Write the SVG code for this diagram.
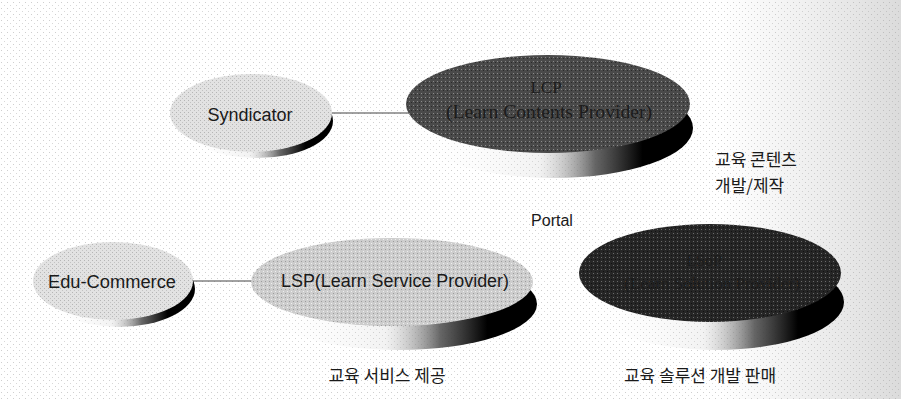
<svg xmlns="http://www.w3.org/2000/svg" width="901" height="399" viewBox="0 0 901 399">
<defs>
<style>
.t{font-family:"Liberation Sans","Noto Sans CJK KR",sans-serif;fill:#1a1a1a;text-anchor:middle}
.k{font-family:"Noto Sans CJK KR","Liberation Sans",sans-serif;fill:#1a1a1a;font-size:17px}
.dk{font-family:"Liberation Serif","Noto Sans CJK KR",serif;fill:#1c1c1c;text-anchor:middle}
.conn{stroke:#444;stroke-width:1.2;fill:none}
</style>
<pattern id="dots" width="6" height="6" patternUnits="userSpaceOnUse">
<rect width="6" height="6" fill="#ffffff"/>
<rect x="1" y="2" width="1" height="1" fill="#cfcfcf"/>
<rect x="4" y="5" width="1" height="1" fill="#d8d8d8"/>
</pattern>
<pattern id="lite" width="4" height="4" patternUnits="userSpaceOnUse">
<rect width="4" height="4" fill="#e2e2e2"/>
<rect x="0" y="0" width="1" height="1" fill="#b5b5b5"/>
<rect x="2" y="2" width="1" height="1" fill="#c2c2c2"/>
</pattern>
<pattern id="mid" width="4" height="4" patternUnits="userSpaceOnUse">
<rect width="4" height="4" fill="#cdcdcd"/>
<rect x="1" y="1" width="1" height="1" fill="#9c9c9c"/>
<rect x="3" y="3" width="1" height="1" fill="#eeeeee"/>
</pattern>
<pattern id="dark" width="4" height="4" patternUnits="userSpaceOnUse">
<rect width="4" height="4" fill="#4a4a4a"/>
<rect x="1" y="1" width="1" height="1" fill="#8a8a8a"/>
<rect x="3" y="2" width="1" height="1" fill="#2a2a2a"/>
</pattern>
<pattern id="darker" width="4" height="4" patternUnits="userSpaceOnUse">
<rect width="4" height="4" fill="#262626"/>
<rect x="1" y="1" width="1" height="1" fill="#6a6a6a"/>
<rect x="3" y="3" width="1" height="1" fill="#111"/>
</pattern>
<linearGradient id="sh" x1="0" y1="0" x2="1" y2="0">
<stop offset="0" stop-color="#ffffff" stop-opacity="0"/>
<stop offset="0.45" stop-color="#cccccc" stop-opacity="0.25"/>
<stop offset="0.65" stop-color="#555" stop-opacity="0.9"/>
<stop offset="0.82" stop-color="#000" stop-opacity="1"/>
<stop offset="1" stop-color="#000" stop-opacity="1"/>
</linearGradient>
<linearGradient id="bgfade" x1="0" y1="0" x2="1" y2="0">
<stop offset="0.8" stop-color="#aaa" stop-opacity="0"/>
<stop offset="1" stop-color="#999" stop-opacity="0.35"/>
</linearGradient>
</defs>
<rect width="901" height="399" fill="url(#dots)"/>
<rect width="901" height="399" fill="url(#bgfade)"/>

<g id="connectors">
<line class="conn" x1="325" y1="113" x2="412" y2="113"/>
<line class="conn" x1="188" y1="281" x2="260" y2="281"/>
</g>

<g id="syndicator">
<ellipse cx="257" cy="121" rx="76" ry="37" fill="url(#sh)"/>
<ellipse cx="251" cy="113" rx="81" ry="39" fill="url(#lite)"/>
<text class="t" x="250" y="121" font-size="18">Syndicator</text>
</g>

<g id="lcp">
<ellipse cx="553" cy="128" rx="140" ry="50" fill="url(#sh)"/>
<ellipse cx="548" cy="104" rx="142" ry="49" fill="url(#dark)"/>
<text class="dk" x="546" y="93" font-size="17">LCP</text>
<text class="dk" x="549" y="118" font-size="18" textLength="206" lengthAdjust="spacingAndGlyphs">(Learn Contents Provider)</text>
</g>

<g id="edu-commerce">
<ellipse cx="119" cy="289" rx="76" ry="38" fill="url(#sh)"/>
<ellipse cx="113" cy="281" rx="80" ry="39" fill="url(#lite)"/>
<text class="t" x="112" y="288" font-size="18" textLength="128" lengthAdjust="spacingAndGlyphs">Edu-Commerce</text>
</g>

<g id="lsp">
<ellipse cx="399" cy="304" rx="138" ry="46" fill="url(#sh)"/>
<ellipse cx="392" cy="282" rx="141" ry="44" fill="url(#mid)"/>
<text class="t" x="395" y="287" font-size="18" textLength="228" lengthAdjust="spacingAndGlyphs">LSP(Learn Service Provider)</text>
</g>

<g id="lsop">
<ellipse cx="716" cy="302" rx="128" ry="48" fill="url(#sh)"/>
<ellipse cx="710" cy="273" rx="131" ry="49" fill="url(#darker)"/>
<text class="dk" x="704" y="266" font-size="16" fill="#141414">LSoP</text>
<text class="dk" x="712" y="289" font-size="17" fill="#141414">(Learn Solution Provider)</text>
</g>

<g id="labels">
<text class="k" x="715" y="166">교육 콘텐츠</text>
<text class="k" x="715" y="192">개발/제작</text>
<text class="t" x="552" y="226" font-size="16">Portal</text>
<text class="k" x="387" y="382" text-anchor="middle">교육 서비스 제공</text>
<text class="k" x="700" y="382" text-anchor="middle">교육 솔루션 개발 판매</text>
</g>
</svg>
